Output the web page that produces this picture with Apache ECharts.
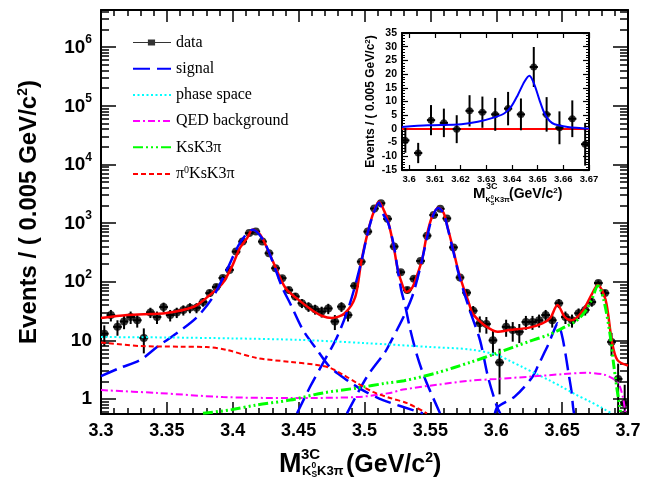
<!DOCTYPE html>
<html>
<head>
<meta charset="utf-8">
<script src="https://cdn.jsdelivr.net/npm/echarts@6/dist/echarts.min.js"></script>
<style>
html,body{margin:0;padding:0;background:#fff;}
#chart{width:667px;height:485px;}
</style>
</head>
<body>
<div id="chart"></div>
<script>
// ================= DATA =================
// main histogram: bins of 0.005 GeV/c^2 starting at 3.30
const binStart = 3.3;
const binWidth = 0.005;
const dataCounts = [
  13, 27, 17, 21, 25, 22, 11, 30, 25, 37, 27, 30, 33, 36, 36, 45, 64, 81, 116, 159,
  326, 484, 674, 716, 484, 306, 170, 115, 72, 56,
  43, 37.6, 34, 31, 35, 21, 37.6, 27, 85, 220,
  716, 1770, 2180, 1180, 398, 145, 72, 112, 226, 610,
  1370, 1750, 1200, 385, 118, 65, 32, 19.6, 19, 10,
  4.2, 17, 15, 14, 20.6, 20.6, 22, 27, 22, 43,
  25, 22, 29, 33, 45, 95, 64, 9.4, 2.2, 0.85
];
const dataErrors = [
  5, 6, 5, 5.5, 6, 5.5, 5, 6, 6, 7, 6, 6, 6.5, 7, 7, 7.5, 9, 10, 12, 13,
  18, 22, 26, 27, 22, 18, 13, 11, 9, 8,
  7.5, 7, 6.5, 6.5, 7, 6, 7, 6, 10, 15,
  27, 42, 47, 35, 20, 12.5, 9, 11, 15, 25,
  37, 42, 35, 20, 11.5, 8.5, 6.5, 6, 6, 4.5,
  3, 5.5, 5.5, 5, 5.5, 5.5, 5.5, 6, 5.5, 7.5,
  6, 5.5, 6, 6.5, 7.5, 10, 8.5, 4, 1.8, 0.9
];

// total fit (red solid)
const fitMass = [3.300,3.320,3.350,3.370,3.380,3.392,3.400,3.405,3.411,3.415,3.421,3.430,3.440,3.450,3.460,3.468,
  3.475,3.485,3.493,3.4975,3.5025,3.507,3.511,3.515,3.518,3.522,3.525,3.529,3.532,3.536,3.540,3.544,3.547,
  3.551,3.556,3.560,3.563,3.567,3.571,3.575,3.579,3.582,3.588,3.594,3.601,3.610,3.625,3.635,3.641,3.6465,
  3.652,3.657,3.665,3.673,3.677,3.683,3.688,3.692,3.700];
const fitEvents = [24,27,29.4,37,53,92,194,360,560,770,630,235,78,49,33,26,
  24,29,55,217,700,1550,2300,1600,1050,420,172,85,67,78,130,254,580,
  1230,1830,1500,860,380,160,81,45,29,20.6,16.3,14,15,16.5,19.5,24,40,
  25,22,30.5,64,88,49,9,4.6,3.7];

// signal components (blue long dash)
const chic0Mass = [3.300,3.3145,3.3296,3.3425,3.3577,3.3729,3.385,3.3956,3.4055,3.415,3.423,3.4298,3.4374,3.4435,3.4533,3.464,3.4738,3.4867,3.4989,3.514,3.5444];
const chic0Events = [2.45,3.4,4.6,7.7,13.4,25,55,160,460,770,520,235,81,43,15,6.9,3.5,2.1,1.4,0.96,0.57];
const chic1Mass = [3.4488,3.4586,3.4685,3.4792,3.489,3.4975,3.5025,3.507,3.511,3.514,3.518,3.5224,3.5254,3.528,3.531,3.5345,3.5398,3.546,3.5573];
const chic1Events = [0.57,1.6,4.1,11.4,43,215,690,1500,2250,1450,1000,400,150,70,38,16,5.6,2.2,0.57];
const chic2Mass = [3.4867,3.5019,3.5156,3.5194,3.5292,3.5361,3.5398,3.5436,3.5474,3.5512,3.5558,3.560,3.563,3.567,3.571,3.575,3.580,3.5877,3.5937,3.6006,3.603];
const chic2Events = [0.57,2.4,6.3,9,24,55,105,230,560,1200,1800,1480,840,360,150,72,32,10,2.4,0.73,0.57];
const etacMass = [3.599,3.601,3.614,3.627,3.632,3.637,3.640,3.6425,3.645,3.6465,3.6485,3.6505,3.6527,3.6547,3.657,3.6583,3.659];
const etacEvents = [0.57,0.73,1.1,2.3,3.8,6.5,9,12.5,17,19.5,16,10.5,5.6,2.9,1.4,0.73,0.57];

// phase space (cyan dotted)
const phspMass = [3.300,3.350,3.400,3.450,3.500,3.550,3.580,3.600,3.610,3.620,3.630,3.640,3.650,3.660,3.670,3.680,3.688];
const phspEvents = [11.4,11.2,10.8,10.2,9.0,7.7,7.0,5.7,4.5,3.5,2.7,2.1,1.6,1.2,0.93,0.71,0.56];

// QED background (magenta dash-dot)
const qedMass = [3.300,3.3425,3.3926,3.4435,3.4943,3.5194,3.5292,3.555,3.580,3.600,3.625,3.650,3.668,3.682,3.689,3.693,3.696,3.698];
const qedEvents = [1.42,1.27,1.08,1.04,1.08,1.27,1.45,1.75,2.05,2.2,2.4,2.65,2.8,2.6,2.2,1.8,1.1,0.6];

// KsK3pi (green dash-dot-dot)
const ksk3piMass = [3.3774,3.398,3.418,3.4435,3.4685,3.4943,3.517,3.530,3.555,3.580,3.600,3.625,3.640,3.650,3.660,3.667,3.6725,3.6772,3.6815,3.6863,3.689,3.6916,3.6945];
const ksk3piEvents = [0.57,0.65,0.79,0.96,1.27,1.54,1.87,2.05,2.8,4.2,6.0,9.6,12.5,16,21,30,50,85,50,13,4.1,1.5,0.57];

// pi0 KsK3pi (red short dash)
const pi0Mass = [3.300,3.330,3.360,3.380,3.395,3.4184,3.4435,3.464,3.4738,3.4837,3.4943,3.5064,3.5194,3.5323,3.5474];
const pi0Events = [9.2,8.0,7.8,7.7,6.9,5.0,4.3,3.8,3.4,2.6,1.87,1.32,1.04,0.85,0.57];

// inset: background-subtracted spectrum
const insetBinStart = 3.596;
const insetBinWidth = 0.005;
const insetCounts = [-4.2,-8.8,3.2,2.2,-0.1,6.6,6.1,5.3,7.4,5.3,22.6,5.3,0.4,3.7,-5.6];
const insetErrors = [4.5,3.7,5.5,5.2,5.1,5.7,5.7,6,6.1,5.8,7.3,6.3,6,6.7,7.8];
const insetFitMass = [3.5972,3.6073,3.6203,3.6267,3.6332,3.6371,3.6397,3.6423,3.6449,3.6468,3.6488,3.6507,3.6527,3.6547,3.6566,3.6617,3.670];
const insetFitEvents = [0.7,1.3,1.7,2.6,4.2,5.7,8.1,12.4,17.3,19.4,16,10.6,5.6,2.9,1.7,0.7,0.1];
const insetZeroMass = [3.5972,3.670];
const insetZeroEvents = [0,0];

// tick labels
const insetXTicks = [3.60,3.61,3.62,3.63,3.64,3.65,3.66,3.67];
const legendNames = ['data','signal','phase space','QED background','KsK3π','π0KsK3π'];

// ================= CHART =================
const FONT = '"Liberation Sans", Arial, Helvetica, sans-serif';
const SERIF = '"Liberation Serif", "Times New Roman", serif';
const zip = (xs, ys) => xs.map((x, i) => [x, ys[i]]);

const massBins = dataCounts.map((_, i) => +(binStart + binWidth * (i + 0.5)).toFixed(4));
const insetBins = insetCounts.map((_, i) => +(insetBinStart + insetBinWidth * (i + 0.5)).toFixed(4));

function errorBars(halfWidth, floorVal) {
  return function (params, api) {
    const x = api.value(0), y = api.value(1), e = api.value(2);
    let lo = y - e;
    if (floorVal !== null && lo < floorVal) lo = floorVal;
    const top = api.coord([x, y + e]);
    const bot = api.coord([x, lo]);
    const l = api.coord([x - halfWidth, y]);
    const r = api.coord([x + halfWidth, y]);
    const st = { stroke: '#000', lineWidth: 2 };
    return { type: 'group', children: [
      { type: 'line', shape: { x1: top[0], y1: top[1], x2: bot[0], y2: bot[1] }, style: st },
      { type: 'line', shape: { x1: l[0], y1: l[1], x2: r[0], y2: r[1] }, style: st }
    ]};
  };
}

function curve(name, xs, ys, color, width, type, z) {
  return {
    name: name, type: 'line', xAxisIndex: 0, yAxisIndex: 0,
    data: zip(xs, ys), showSymbol: false, symbol: 'none', smooth: 0.3,
    clip: true, silent: true, z: z,
    itemStyle: { color: color, opacity: 0 },
    lineStyle: { color: color, width: width, type: type, opacity: 1 }
  };
}

const black = '#000';
const tickStyle = { color: black, width: 1.5 };
function xAxisMain(pos, showLabel) {
  return {
    type: 'value', gridIndex: 0, position: pos, min: 3.3, max: 3.7, interval: 0.05,
    axisLine: { show: true, onZero: false, lineStyle: { color: black, width: 2 } },
    axisTick: { show: true, inside: true, length: 12, lineStyle: tickStyle },
    minorTick: { show: true, splitNumber: 5, length: 6, lineStyle: tickStyle },
    axisLabel: { show: showLabel, margin: 8, color: black, fontFamily: FONT, fontWeight: 'bold', fontSize: 18 },
    splitLine: { show: false }, minorSplitLine: { show: false }
  };
}
function logLabel(v) {
  const lg = Math.log10(v);
  const e = Math.round(lg);
  if (Math.abs(lg - e) > 1e-6) return '';
  if (e === 0) return '1';
  if (e === 1) return '10';
  return '{b|10}{e|' + e + '}';
}
function yAxisMain(pos, showLabel) {
  const ax = {
    type: 'log', logBase: 10, gridIndex: 0, position: pos, min: 0.555, max: 4.3e6, splitNumber: 8,
    axisLine: { show: true, lineStyle: { color: black, width: 2 } },
    axisTick: { show: true, inside: true, length: 15, lineStyle: tickStyle },
    minorTick: { show: true, splitNumber: 9, length: 8, lineStyle: tickStyle },
    axisLabel: {
      show: showLabel, margin: 9, formatter: logLabel, color: black,
      fontFamily: FONT, fontWeight: 'bold', fontSize: 19,
      rich: {
        b: { fontFamily: FONT, fontWeight: 'bold', fontSize: 19, lineHeight: 20, color: black, verticalAlign: 'bottom' },
        e: { fontFamily: FONT, fontWeight: 'bold', fontSize: 12, lineHeight: 12, color: black, padding: [0, 0, 14, 0], verticalAlign: 'middle' }
      }
    },
    splitLine: { show: false }, minorSplitLine: { show: false }
  };
  if (showLabel) {
    ax.name = '{t|Events / ( 0.005 GeV/c}{s|2}{t|)}';
    ax.nameLocation = 'middle';
    ax.nameGap = 60;
    ax.nameTextStyle = {
      rich: {
        t: { fontFamily: FONT, fontWeight: 'bold', fontSize: 24, lineHeight: 24, color: black, verticalAlign: 'bottom' },
        s: { fontFamily: FONT, fontWeight: 'bold', fontSize: 14, lineHeight: 14, color: black, padding: [0, 0, 12, 0], verticalAlign: 'middle' }
      }
    };
  }
  return ax;
}
function xAxisInset(pos, showLabel) {
  return {
    type: 'value', gridIndex: 1, position: pos, min: 3.5972, max: 3.67, splitNumber: 7,
    axisLine: { show: true, onZero: false, lineStyle: { color: black, width: 2 } },
    axisTick: { show: true, inside: true, length: 5, customValues: insetXTicks, lineStyle: { color: black, width: 1.2 } },
    axisLabel: {
      show: showLabel, margin: 4, customValues: insetXTicks, color: black,
      fontFamily: FONT, fontWeight: 'bold', fontSize: 9.5,
      formatter: v => { const r = Math.round(v * 100); return Math.abs(v * 100 - r) < 1e-6 ? String(+(r / 100).toFixed(2)) : ''; }
    },
    splitLine: { show: false }
  };
}
function yAxisInset(pos, showLabel) {
  const ax = {
    type: 'value', gridIndex: 1, position: pos, min: -15, max: 35, interval: 5,
    axisLine: { show: true, onZero: false, lineStyle: { color: black, width: 2 } },
    axisTick: { show: true, inside: true, length: 6, lineStyle: { color: black, width: 1.2 } },
    minorTick: { show: true, splitNumber: 5, length: 3, lineStyle: { color: black, width: 1 } },
    axisLabel: { show: showLabel, margin: 5, color: black, fontFamily: FONT, fontWeight: 'bold', fontSize: 10.5 },
    splitLine: { show: false }, minorSplitLine: { show: false }
  };
  if (showLabel) {
    ax.name = '{t|Events / ( 0.005 GeV/c}{s|2}{t|)}';
    ax.nameLocation = 'middle';
    ax.nameGap = 25;
    ax.nameTextStyle = {
      rich: {
        t: { fontFamily: FONT, fontWeight: 'bold', fontSize: 12, lineHeight: 12, color: black, verticalAlign: 'bottom' },
        s: { fontFamily: FONT, fontWeight: 'bold', fontSize: 8, lineHeight: 8, color: black, padding: [0, 0, 6, 0], verticalAlign: 'middle' }
      }
    };
  }
  return ax;
}

function txt(text, x, y, size, extra) {
  return Object.assign({
    type: 'text', x: x, y: y, silent: true, z: 50,
    style: { text: text, font: 'bold ' + size + 'px ' + FONT, fill: black,
      textAlign: 'left', textVerticalAlign: 'middle', align: 'left', verticalAlign: 'middle' }
  }, extra || {});
}
function richTxt(x, y, big, small) {
  return {
    type: 'text', x: x, y: y, silent: true, z: 50,
    style: {
      text: '{a|(GeV/c}{b|2}{a|)}', fill: black,
      textAlign: 'left', textVerticalAlign: 'middle', align: 'left', verticalAlign: 'middle',
      rich: {
        a: { font: 'bold ' + big + 'px ' + FONT, fill: black, lineHeight: big, verticalAlign: 'bottom' },
        b: { font: 'bold ' + small + 'px ' + FONT, fill: black, lineHeight: small, padding: [0, 0, Math.round(big * 0.5), 0], verticalAlign: 'middle' }
      }
    }
  };
}

const option = {
  animation: false,
  backgroundColor: '#fff',
  grid: [
    { left: 101, top: 10, width: 527, height: 404, containLabel: false, outerBoundsMode: 'none' },
    { left: 402, top: 33, width: 187, height: 137, containLabel: false, outerBoundsMode: 'none' }
  ],
  xAxis: [xAxisMain('bottom', true), xAxisMain('top', false), xAxisInset('bottom', true), xAxisInset('top', false)],
  yAxis: [yAxisMain('left', true), yAxisMain('right', false), yAxisInset('left', true), yAxisInset('right', false)],
  legend: {
    show: true, orient: 'vertical', left: 127, top: 29.5, itemWidth: 38, itemHeight: 14, itemGap: 10.2,
    selectedMode: false,
    data: [
      { name: 'data', icon: 'path://M0,2.6H37V3.4H0Z M14.5,0H21.5V6H14.5Z' },
      'signal', 'phase space', 'QED background', 'KsK3π', 'π0KsK3π'
    ],
    formatter: n => n === 'π0KsK3π' ? '{p|π}{s|0}{p|KsK3π}' : n,
    textStyle: {
      fontFamily: SERIF, fontSize: 16, color: black,
      rich: {
        p: { fontFamily: SERIF, fontSize: 16, color: black, lineHeight: 16, verticalAlign: 'bottom' },
        s: { fontFamily: SERIF, fontSize: 10, color: black, lineHeight: 10, padding: [0, 0, 7, 0], verticalAlign: 'middle' }
      }
    }
  },
  graphic: { elements: [
    // main x-axis title  M^{3C}_{K_S^0 K3pi} (GeV/c^2)
    txt('M', 279, 465, 27),
    txt('3C', 301, 455, 15),
    txt('K', 302, 471, 13),
    txt('0', 311.5, 466, 8.5),
    txt('S', 311.5, 475, 8.5),
    txt('K3π', 317, 471, 13),
    richTxt(346, 465, 25, 14),
    // inset x-axis title
    txt('M', 473, 194, 15),
    txt('3C', 486, 187, 9),
    txt('K', 485.5, 200, 7.5),
    txt('0', 490.8, 197, 5.5),
    txt('S', 490.8, 203, 5.5),
    txt('K3π', 494.5, 200, 7.5),
    richTxt(509, 194, 14, 8)
  ]},
  series: [
    {
      name: 'data errors', type: 'custom', xAxisIndex: 0, yAxisIndex: 0, clip: true, silent: true, z: 3,
      encode: { x: 0, y: 1 },
      renderItem: errorBars(0.0033, 0.3),
      data: massBins.map((x, i) => [x, dataCounts[i], dataErrors[i]])
    },
    {
      name: 'data', type: 'scatter', xAxisIndex: 0, yAxisIndex: 0, symbol: 'circle', symbolSize: 8,
      itemStyle: { color: black }, silent: true, clip: true, z: 4,
      data: massBins.map((x, i) => [x, dataCounts[i]])
    },
    curve('total fit', fitMass, fitEvents, '#ff0000', 2.5, 'solid', 5),
    curve('signal', chic0Mass, chic0Events, '#0000ff', 2.5, [17, 7], 6),
    curve('signal', chic1Mass, chic1Events, '#0000ff', 2.5, [17, 7], 6),
    curve('signal', chic2Mass, chic2Events, '#0000ff', 2.5, [17, 7], 6),
    curve('signal', etacMass, etacEvents, '#0000ff', 2.5, [17, 7], 6),
    curve('phase space', phspMass, phspEvents, '#00ffff', 2, [2, 2.5], 6),
    curve('QED background', qedMass, qedEvents, '#ff00ff', 2, [7, 3, 2, 3], 6),
    curve('KsK3π', ksk3piMass, ksk3piEvents, '#00ff00', 3, [10, 3, 2, 3, 2, 3, 2, 3], 6),
    curve('π0KsK3π', pi0Mass, pi0Events, '#ff0000', 2, [5, 3], 6),
    // inset
    {
      name: 'inset zero', type: 'line', xAxisIndex: 2, yAxisIndex: 2, data: zip(insetZeroMass, insetZeroEvents),
      showSymbol: false, symbol: 'none', silent: true, z: 10,
      lineStyle: { color: '#ff0000', width: 2 }, itemStyle: { color: '#ff0000' }
    },
    {
      name: 'inset errors', type: 'custom', xAxisIndex: 2, yAxisIndex: 2, clip: true, silent: true, z: 11,
      encode: { x: 0, y: 1 },
      renderItem: errorBars(0.0016, null),
      data: insetBins.map((x, i) => [x, insetCounts[i], insetErrors[i]])
    },
    {
      name: 'inset data', type: 'scatter', xAxisIndex: 2, yAxisIndex: 2, symbol: 'circle', symbolSize: 7,
      itemStyle: { color: black }, silent: true, clip: true, z: 12,
      data: insetBins.map((x, i) => [x, insetCounts[i]])
    },
    {
      name: 'inset fit', type: 'line', xAxisIndex: 2, yAxisIndex: 2, data: zip(insetFitMass, insetFitEvents),
      showSymbol: false, symbol: 'none', smooth: 0.3, silent: true, clip: true, z: 13,
      lineStyle: { color: '#0000ff', width: 2 }, itemStyle: { color: '#0000ff' }
    }
  ]
};

const chart = echarts.init(document.getElementById('chart'), null, { renderer: 'canvas' });
chart.setOption(option);
</script>
</body>
</html>
